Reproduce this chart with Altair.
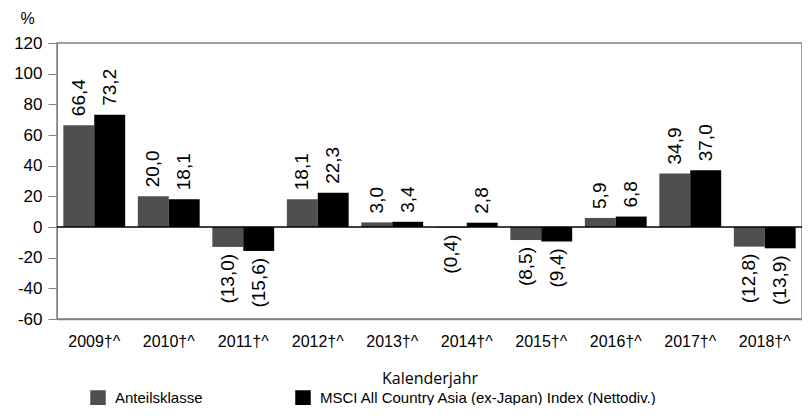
import altair as alt
import pandas as pd

years = ["2009", "2010", "2011", "2012", "2013", "2014", "2015", "2016", "2017", "2018"]
fund = [66.4, 20.0, -13.0, 18.1, 3.0, -0.4, -8.5, 5.9, 34.9, -12.8]
bench = [73.2, 18.1, -15.6, 22.3, 3.4, 2.8, -9.4, 6.8, 37.0, -13.9]
series = ["Anteilsklasse", "MSCI All Country Asia (ex-Japan) Index (Nettodiv.)"]
colors = ["#4f4f4f", "#000000"]
y_ticks = [-60, -40, -20, 0, 20, 40, 60, 80, 100, 120]

rows = []
for yr, f, b in zip(years, fund, bench):
    for s, v in zip(series, [f, b]):
        lab = f"{abs(v):.1f}".replace(".", ",")
        if v < 0:
            lab = f"({lab})"
        rows.append({"year": yr + "†^", "series": s, "value": v, "label": lab})
df = pd.DataFrame(rows)
year_labels = [y + "†^" for y in years]

FONT = "Liberation Sans"

x_axis = alt.Axis(
    title="Kalenderjahr", labelAngle=0, ticks=False, labelFontSize=16,
    labelFont=FONT, labelColor="#000", labelPadding=14,
    domainColor="#808080", domainWidth=1.5,
    titleFont="Open Sans", titleFontSize=16, titleFontWeight="normal",
    titleColor="#000", titleY=51,
)
y_axis = alt.Axis(
    values=y_ticks, grid=False, tickSize=9, tickColor="#808080",
    domainColor="#808080", labelFontSize=17, labelFont=FONT,
    labelColor="#000", labelPadding=6, labelExpr="'' + datum.value",
    labelOverlap=False,
    title="%", titleAngle=0, titleAlign="left", titleBaseline="alphabetic",
    titleX=-37, titleY=-20, titleFontSize=16, titleFont=FONT,
    titleFontWeight="normal", titleColor="#000",
)
x_scale = alt.Scale(paddingInner=0.17, paddingOuter=0.085)
y_scale = alt.Scale(domain=[-60, 120], nice=False, zero=False)
xo_enc = alt.XOffset("series:N", sort=series, scale=alt.Scale(paddingInner=0, paddingOuter=0))

x_enc = alt.X("year:N", sort=year_labels, scale=x_scale, axis=x_axis)
y_enc = alt.Y("value:Q", scale=y_scale, axis=y_axis)

base = alt.Chart(df)

bars = base.mark_bar().encode(
    x=x_enc,
    xOffset=xo_enc,
    y=y_enc,
    color=alt.Color(
        "series:N", sort=series,
        scale=alt.Scale(domain=series, range=colors),
        legend=alt.Legend(
            title=None, orient="none", legendX=33, legendY=347,
            direction="horizontal", symbolType="square", symbolSize=240,
            symbolStrokeWidth=0, labelFontSize=15, labelFont=FONT,
            labelColor="#000", labelOffset=9, columnPadding=92, padding=0,
            labelLimit=500,
        ),
    ),
)

pos_text = base.transform_filter("datum.value >= 0").mark_text(
    angle=270, align="left", baseline="middle", dx=9, fontSize=19, font=FONT, color="#000"
).encode(x=x_enc, xOffset=xo_enc, y=y_enc, text="label:N")

neg_text = base.transform_filter("datum.value < 0").mark_text(
    angle=270, align="right", baseline="middle", dx=-7, fontSize=19, font=FONT, color="#000"
).encode(x=x_enc, xOffset=xo_enc, y=y_enc, text="label:N")

zero = alt.Chart(pd.DataFrame({"value": [0]})).mark_rule(color="#000", strokeWidth=1.5).encode(
    y=y_enc
)

chart = alt.layer(bars, pos_text, neg_text, zero).properties(
    width=745, height=276,
    autosize=alt.AutoSizeParams(type="none"),
    padding={"left": 49, "top": 35, "right": 0, "bottom": 86},
).configure_view(stroke="#808080", strokeWidth=1.5).configure_axisY(labelOverlap=False)

chart.save("out.html", embed_options={"renderer": "svg", "actions": False})
